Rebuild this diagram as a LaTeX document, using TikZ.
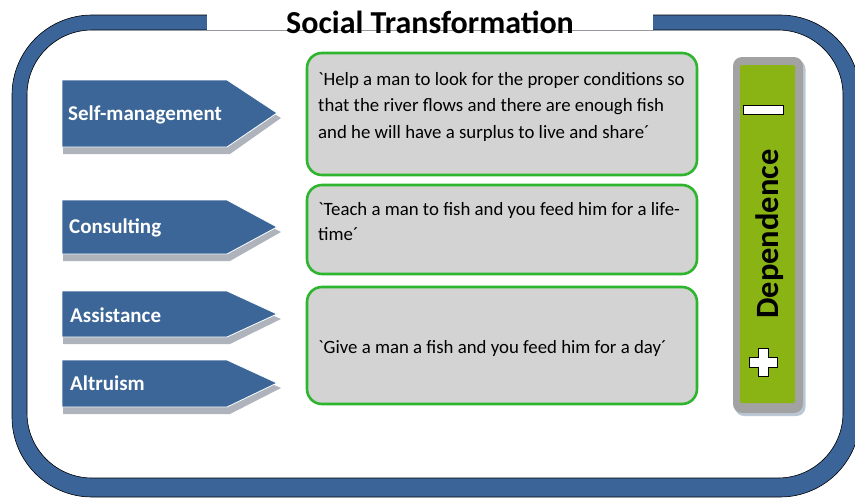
\documentclass[tikz,border=0pt]{standalone}
\usepackage{fontspec}
\setmainfont{Carlito}[Ligatures=TeXOff]
\definecolor{frameblue}{HTML}{3B6599}
\definecolor{arrowblue}{HTML}{3C6697}
\definecolor{shadowgray}{HTML}{AEB3BC}
\definecolor{boxgreen}{HTML}{2DB52D}
\definecolor{boxfill}{HTML}{D3D3D3}
\definecolor{bargreen}{HTML}{8AB413}
\definecolor{bargray}{HTML}{A2A2A2}
\definecolor{barshadow}{HTML}{BCC7D6}
\tikzset{
  gbox/.style={draw=boxgreen, line width=2.6pt, fill=boxfill, rounded corners=15pt, inner sep=0pt},
  boxtext/.style={anchor=base west, inner sep=0pt, font=\fontsize{18.8}{26}\selectfont},
  chevtext/.style={anchor=west, inner sep=0pt, text=white, font=\fontsize{21}{22}\selectfont\bfseries},
}
\newcommand\chev[4]{% y0, y1, ymid, name
  \fill[shadowgray] (64,#1+6) -- (230,#1+6) -- (281,#3+5) -- (230,#2+7) -- (63,#2+7) -- cycle;
  \fill[arrowblue, draw=white, line width=0.8pt] (62,#1) -- (227,#1) -- (277,#3) -- (227,#2) -- (62,#2) -- cycle;
}
\begin{document}
\begin{tikzpicture}[x=1pt,y=-1pt]
\useasboundingbox (0,0) rectangle (855,498);
% frame band
\fill[frameblue, even odd rule] [rounded corners=80pt] (12,15) rectangle (860,497) [rounded corners=65pt] (27,30) rectangle (843,478);
\draw[black, line width=0.6pt, rounded corners=80pt] (12,15) rectangle (860,497);
\draw[black, line width=0.6pt, rounded corners=65pt] (27,30) rectangle (843,478);
\fill[white] (207,8) rectangle (653,29.7);
\node[inner sep=0pt, font=\fontsize{32}{32}\selectfont\bfseries] (title) at (430,22) {Social Transformation};

% chevrons
\chev{80}{147}{113}{a}
\node[chevtext] (sm) at (68,115) {Self-management};
\chev{200}{254}{227}{b}
\node[chevtext] (co) at (69,228) {Consulting};
\chev{291}{337}{314}{c}
\node[chevtext] (as) at (70,315) {Assistance};
\chev{360}{407}{383}{d}
\node[chevtext] (al) at (70,383) {Altruism};

% green boxes
\node[gbox, minimum width=390pt, minimum height=122pt] (b1) at (502,114) {};
\node[gbox, minimum width=390pt, minimum height=89pt] (b2) at (502,229.5) {};
\node[gbox, minimum width=390pt, minimum height=117pt] (b3) at (502,345.5) {};
\node[boxtext] (t1a) at (318,85) {`Help a man to look for the proper conditions so};
\node[boxtext] (t1b) at (318,111.5) {that the river flows and there are enough fish};
\node[boxtext] (t1c) at (318,138) {and he will have a surplus to live and share´};
\node[boxtext] (t2a) at (318,215) {`Teach a man to fish and you feed him for a life-};
\node[boxtext] (t2b) at (318,240.5) {time´};
\node[boxtext] (t3a) at (318,353) {`Give a man a fish and you feed him for a day´};

% dependence bar
\fill[barshadow, rounded corners=9pt] (735,60) rectangle (805.5,416);
\fill[bargray, rounded corners=9pt] (733,57) rectangle (803,413);
\fill[bargreen, rounded corners=2pt] (740,65) rectangle (795,403);
\node[draw=black, line width=0.6pt, fill=white, minimum width=40pt, minimum height=9pt, inner sep=0pt] (minus) at (763,110) {};
\draw[black, line width=0.6pt, fill=white] (758,348) -- (768,348) -- (768,357) -- (777,357) -- (777,367) -- (768,367) -- (768,376) -- (758,376) -- (758,367) -- (749,367) -- (749,357) -- (758,357) -- cycle;
\node[rotate=90, inner sep=0pt, font=\fontsize{32.5}{32}\selectfont\bfseries] (dep) at (770,234) {Dependence};
\end{tikzpicture}
\end{document}
